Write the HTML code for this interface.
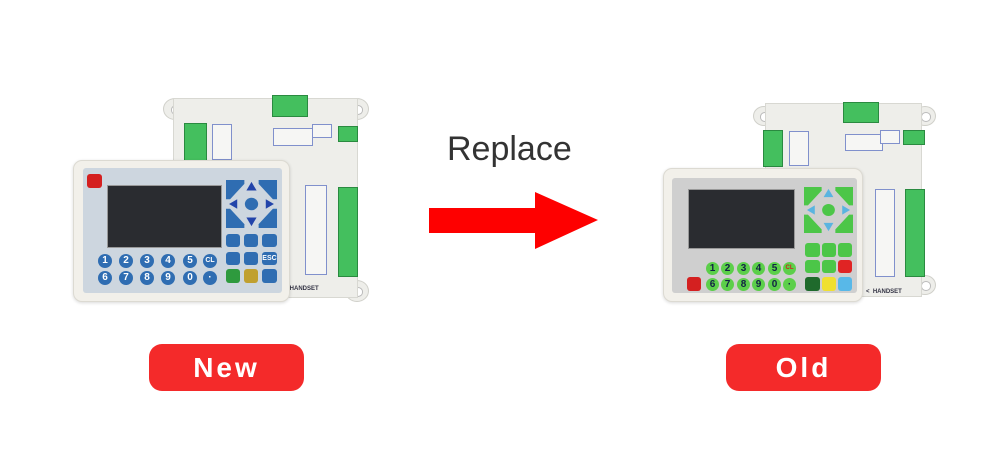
<!DOCTYPE html>
<html><head><meta charset="utf-8"><style>
*{margin:0;padding:0;box-sizing:border-box}
body{width:1000px;height:456px;background:#fff;position:relative;overflow:hidden;font-family:"Liberation Sans",sans-serif}
.a{position:absolute}
.board{background:#eeeeea;border:1px solid #d8d8d2}
.ear{background:#eeeeea;border:1px solid #d0d0ca;border-radius:50%}
.ear::after{content:"";position:absolute;left:30%;top:30%;width:40%;height:40%;border-radius:50%;background:#fff;border:1px solid #bbb}
.term{background:#44bf5e;border:1px solid #2a8a40}
.front{background:#f2f0ea;border:1px solid #dcdad2;border-radius:9px;box-shadow:0 1px 3px rgba(0,0,0,.15)}
.inner{border-radius:3px}
.scr{background:#2a2c30;border:1px solid #999}
.k{position:absolute;border-radius:3px;font-size:4px;color:#fff;text-align:center}
.n{position:absolute;border-radius:50%;font-size:10px;color:#fff;text-align:center;font-weight:bold}
.lbl{position:absolute;border:1px solid #8090cc;background:#f6f6f4}
.btn{position:absolute;background:#f42a2a;border-radius:13px;color:#fff;font-size:28px;font-weight:bold;letter-spacing:3px;text-align:center;line-height:47px}
</style></head><body>

<!-- LEFT DEVICE -->
<div class="a ear" style="left:163px;top:98px;width:24px;height:22px"></div>
<div class="a ear" style="left:345px;top:98px;width:24px;height:22px"></div>
<div class="a ear" style="left:345px;top:280px;width:24px;height:22px"></div>
<div class="a board" style="left:173px;top:98px;width:185px;height:200px"></div>
<div class="a term" style="left:272px;top:95px;width:36px;height:22px"></div>
<div class="a term" style="left:338px;top:126px;width:20px;height:16px"></div>
<div class="a term" style="left:184px;top:123px;width:23px;height:38px"></div>
<div class="a term" style="left:338px;top:187px;width:20px;height:90px"></div>
<div class="lbl" style="left:212px;top:124px;width:20px;height:36px"></div>
<div class="lbl" style="left:273px;top:128px;width:40px;height:18px"></div>
<div class="lbl" style="left:312px;top:124px;width:20px;height:14px"></div>
<div class="lbl" style="left:305px;top:185px;width:22px;height:90px"></div>
<div class="a" style="left:282px;top:286px;font-size:6px;font-weight:bold;color:#334">K&nbsp;&nbsp;HANDSET</div>
<div class="a front" style="left:73px;top:160px;width:217px;height:142px"></div>
<div class="a inner" style="left:83px;top:168px;width:199px;height:125px;background:#cdd6df"></div>
<div class="a scr" style="left:107px;top:185px;width:115px;height:63px"></div>
<div class="k" style="left:87px;top:174px;width:15px;height:14px;background:#d42020"></div>
<svg class="a" style="left:226px;top:180px" width="51" height="48" viewBox="0 0 100 100" preserveAspectRatio="none">
<g fill="#2f6db2"><polygon points="0,0 36,0 36,8 8,40 0,40"/><polygon points="100,0 64,0 64,8 92,40 100,40"/><polygon points="0,100 36,100 36,92 8,60 0,60"/><polygon points="100,100 64,100 64,92 92,60 100,60"/><circle cx="50" cy="50" r="13"/></g>
<g fill="#2244aa"><polygon points="50,4 60,22 40,22"/><polygon points="50,96 60,78 40,78"/><polygon points="6,50 22,40 22,60"/><polygon points="94,50 78,40 78,60"/></g></svg>
<div class="k" style="left:226px;top:234px;width:14px;height:13px;background:#2f6db2"></div>
<div class="k" style="left:244px;top:234px;width:14px;height:13px;background:#2f6db2"></div>
<div class="k" style="left:262px;top:234px;width:15px;height:13px;background:#2f6db2"></div>
<div class="k" style="left:226px;top:252px;width:14px;height:13px;background:#2f6db2"></div>
<div class="k" style="left:244px;top:252px;width:14px;height:13px;background:#2f6db2"></div>
<div class="k" style="left:262px;top:252px;width:15px;height:13px;background:#2f6db2;font-size:7px;font-weight:bold;line-height:13px">ESC</div>
<div class="k" style="left:226px;top:269px;width:14px;height:14px;background:#2e9a3e"></div>
<div class="k" style="left:244px;top:269px;width:14px;height:14px;background:#c0a030"></div>
<div class="k" style="left:262px;top:269px;width:15px;height:14px;background:#2f6db2"></div>
<div class="n" style="left:98px;top:254px;width:14px;height:14px;background:#2f6db2;line-height:14px">1</div>
<div class="n" style="left:119px;top:254px;width:14px;height:14px;background:#2f6db2;line-height:14px">2</div>
<div class="n" style="left:140px;top:254px;width:14px;height:14px;background:#2f6db2;line-height:14px">3</div>
<div class="n" style="left:161px;top:254px;width:14px;height:14px;background:#2f6db2;line-height:14px">4</div>
<div class="n" style="left:183px;top:254px;width:14px;height:14px;background:#2f6db2;line-height:14px">5</div>
<div class="n" style="left:203px;top:254px;width:14px;height:14px;background:#2f6db2;line-height:14px;font-size:7px">CL</div>
<div class="n" style="left:98px;top:271px;width:14px;height:14px;background:#2f6db2;line-height:14px">6</div>
<div class="n" style="left:119px;top:271px;width:14px;height:14px;background:#2f6db2;line-height:14px">7</div>
<div class="n" style="left:140px;top:271px;width:14px;height:14px;background:#2f6db2;line-height:14px">8</div>
<div class="n" style="left:161px;top:271px;width:14px;height:14px;background:#2f6db2;line-height:14px">9</div>
<div class="n" style="left:183px;top:271px;width:14px;height:14px;background:#2f6db2;line-height:14px">0</div>
<div class="n" style="left:203px;top:271px;width:14px;height:14px;background:#2f6db2;line-height:14px">·</div>

<!-- RIGHT DEVICE -->
<div class="a ear" style="left:753px;top:106px;width:22px;height:20px"></div>
<div class="a ear" style="left:914px;top:106px;width:22px;height:20px"></div>
<div class="a ear" style="left:914px;top:275px;width:22px;height:20px"></div>
<div class="a board" style="left:765px;top:103px;width:157px;height:194px"></div>
<div class="a term" style="left:843px;top:102px;width:36px;height:21px"></div>
<div class="a term" style="left:903px;top:130px;width:22px;height:15px"></div>
<div class="a term" style="left:763px;top:130px;width:20px;height:37px"></div>
<div class="a term" style="left:905px;top:189px;width:20px;height:88px"></div>
<div class="lbl" style="left:789px;top:131px;width:20px;height:35px"></div>
<div class="lbl" style="left:845px;top:134px;width:38px;height:17px"></div>
<div class="lbl" style="left:880px;top:130px;width:20px;height:14px"></div>
<div class="lbl" style="left:875px;top:189px;width:20px;height:88px"></div>
<div class="a" style="left:866px;top:289px;font-size:6px;font-weight:bold;color:#334">&lt;&nbsp;&nbsp;HANDSET</div>
<div class="a front" style="left:663px;top:168px;width:200px;height:134px"></div>
<div class="a inner" style="left:672px;top:178px;width:185px;height:115px;background:#cfcfcf"></div>
<div class="a scr" style="left:688px;top:189px;width:107px;height:60px"></div>
<svg class="a" style="left:804px;top:187px" width="49" height="46" viewBox="0 0 100 100" preserveAspectRatio="none">
<g fill="#4cc648"><polygon points="0,0 36,0 36,8 8,40 0,40"/><polygon points="100,0 64,0 64,8 92,40 100,40"/><polygon points="0,100 36,100 36,92 8,60 0,60"/><polygon points="100,100 64,100 64,92 92,60 100,60"/><circle cx="50" cy="50" r="13"/></g>
<g fill="#5ab4e0"><polygon points="50,4 60,22 40,22"/><polygon points="50,96 60,78 40,78"/><polygon points="6,50 22,40 22,60"/><polygon points="94,50 78,40 78,60"/></g></svg>
<div class="k" style="left:805px;top:243px;width:15px;height:14px;background:#4cc648"></div>
<div class="k" style="left:822px;top:243px;width:14px;height:14px;background:#4cc648"></div>
<div class="k" style="left:838px;top:243px;width:14px;height:14px;background:#4cc648"></div>
<div class="k" style="left:805px;top:260px;width:15px;height:13px;background:#4cc648"></div>
<div class="k" style="left:822px;top:260px;width:14px;height:13px;background:#4cc648"></div>
<div class="k" style="left:838px;top:260px;width:14px;height:13px;background:#e02424"></div>
<div class="k" style="left:805px;top:277px;width:15px;height:14px;background:#1f6a2c"></div>
<div class="k" style="left:822px;top:277px;width:14px;height:14px;background:#f0e030"></div>
<div class="k" style="left:838px;top:277px;width:14px;height:14px;background:#58b8e8"></div>
<div class="k" style="left:687px;top:277px;width:14px;height:14px;background:#d42020"></div>
<div class="n" style="left:706px;top:262px;width:13px;height:13px;background:#5ccf4a;color:#124;line-height:13px">1</div>
<div class="n" style="left:721px;top:262px;width:13px;height:13px;background:#5ccf4a;color:#124;line-height:13px">2</div>
<div class="n" style="left:737px;top:262px;width:13px;height:13px;background:#5ccf4a;color:#124;line-height:13px">3</div>
<div class="n" style="left:752px;top:262px;width:13px;height:13px;background:#5ccf4a;color:#124;line-height:13px">4</div>
<div class="n" style="left:768px;top:262px;width:13px;height:13px;background:#5ccf4a;color:#124;line-height:13px">5</div>
<div class="n" style="left:783px;top:262px;width:13px;height:13px;background:#5ccf4a;color:#c22;line-height:13px;font-size:6px">CL</div>
<div class="n" style="left:706px;top:278px;width:13px;height:13px;background:#5ccf4a;color:#124;line-height:13px">6</div>
<div class="n" style="left:721px;top:278px;width:13px;height:13px;background:#5ccf4a;color:#124;line-height:13px">7</div>
<div class="n" style="left:737px;top:278px;width:13px;height:13px;background:#5ccf4a;color:#124;line-height:13px">8</div>
<div class="n" style="left:752px;top:278px;width:13px;height:13px;background:#5ccf4a;color:#124;line-height:13px">9</div>
<div class="n" style="left:768px;top:278px;width:13px;height:13px;background:#5ccf4a;color:#124;line-height:13px">0</div>
<div class="n" style="left:783px;top:278px;width:13px;height:13px;background:#5ccf4a;color:#124;line-height:13px">·</div>

<!-- CENTER -->
<div class="a" style="left:447px;top:129px;font-size:34px;color:#333;line-height:40px">Replace</div>
<svg class="a" style="left:0;top:0" width="1000" height="456"><polygon points="429,208 535,208 535,192 598,220 535,249 535,233 429,233" fill="#fe0000"/></svg>

<div class="btn" style="left:149px;top:344px;width:155px;height:47px">New</div>
<div class="btn" style="left:726px;top:344px;width:155px;height:47px">Old</div>
</body></html>
